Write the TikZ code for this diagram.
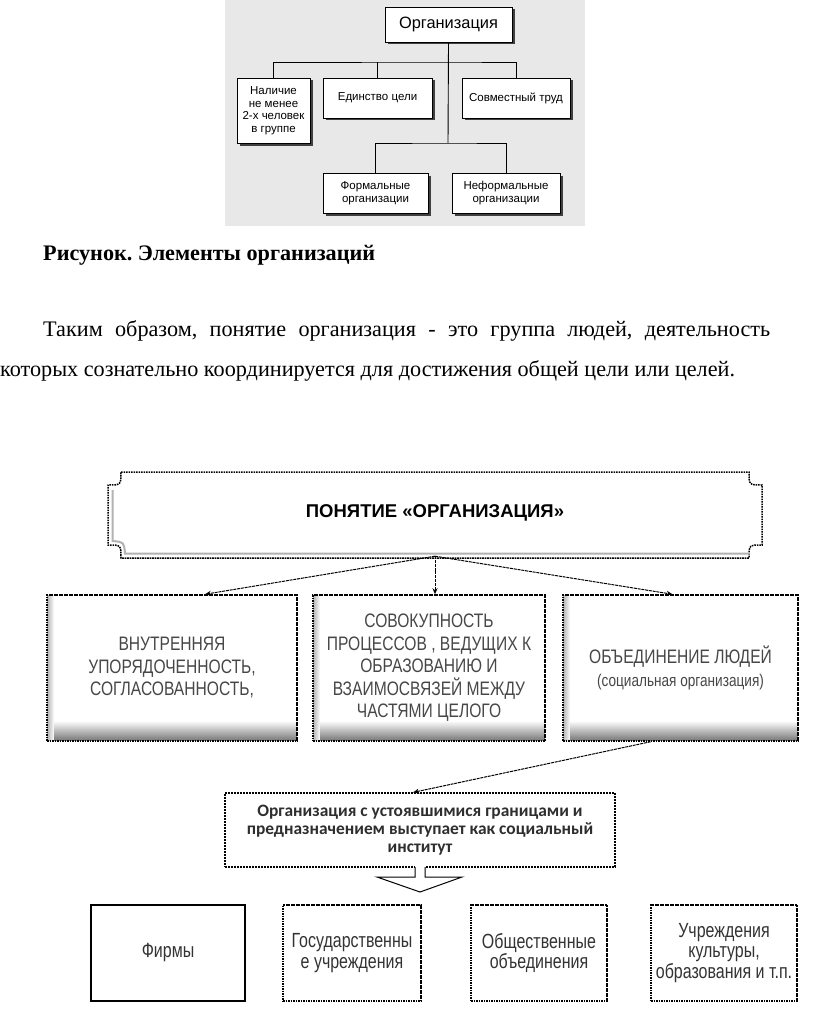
\documentclass[tikz,border=0pt]{standalone}
\usepackage{fontspec}
\setmainfont{Liberation Serif}
\newfontfamily\scanfont{Liberation Sans}
\newfontfamily\narrowfont[FakeStretch=0.8]{Liberation Sans}
\newfontfamily\narrowerfont[FakeStretch=0.78]{Liberation Sans}
\newfontfamily\califont{Carlito}
\usetikzlibrary{arrows.meta,shadows,calc}
\tikzset{
  scanbox/.style={draw, fill=white, line width=0.9pt, align=center, inner sep=1pt,
    font=\scanfont\fontsize{11.5}{12.5}\selectfont,
    drop shadow={shadow xshift=2.5pt, shadow yshift=-2.5pt, fill=black!75, opacity=1}},
  dotframe/.style={draw, line width=1.5pt, dash pattern=on 1.6pt off 0.9pt},
  conceptbox/.style={dotframe, fill=white, align=center, inner sep=0pt, text=black!72,
    font=\narrowfont\fontsize{19.5}{22.5}\selectfont, minimum height=146pt,
    path picture={
      \foreach \k in {0,...,19}{
        \pgfmathsetmacro\shadeval{52-\k*2.7}
        \fill[black!\shadeval] ([yshift=\k pt]path picture bounding box.south west)
          rectangle ([yshift={\k pt+1.05pt}]path picture bounding box.south east);}
      \foreach \k in {0,...,6}{
        \pgfmathsetmacro\shadeval{30-\k*4.2}
        \fill[black!\shadeval] ([xshift=\k pt]path picture bounding box.south west)
          rectangle ([xshift={\k pt+1.05pt}]path picture bounding box.north west);}}},
  kindbox/.style={dotframe, fill=white, align=center, inner sep=0pt, text=black!80,
    font=\narrowerfont\fontsize{20.5}{20.5}\selectfont, minimum height=96pt},
  dasharrow/.style={-{Stealth[length=6pt,width=5pt]}, line width=1pt, dash pattern=on 3pt off 0.8pt},
}
\begin{document}
\frenchspacing
\begin{tikzpicture}[x=1pt,y=-1pt]
  \useasboundingbox (0,0) rectangle (816,1030);
  % scanned scheme
  \fill[black!9] (225,0) rectangle (585,226);
  \node[scanbox, minimum width=127pt, minimum height=35pt, font=\scanfont\fontsize{16.4}{18}\selectfont] (org) at (448.5,24.5) {Организация};
  \node[scanbox, minimum width=73pt, minimum height=65pt] (nal) at (273.5,110.5) {Наличие\\не менее\\2-х человек\\в группе};
  \node[scanbox, minimum width=109pt, minimum height=40pt] (edin) at (377.5,98) {Единство цели};
  \node[scanbox, minimum width=108pt, minimum height=40pt] (sovm) at (516,98) {Совместный труд};
  \node[scanbox, minimum width=105pt, minimum height=40pt] (form) at (375.5,193) {Формальные\\организации};
  \node[scanbox, minimum width=108pt, minimum height=40pt] (neform) at (506,193) {Неформальные\\организации};
  \coordinate (h1) at (448,62); \coordinate (h2) at (448,143);
  \begin{scope}[line width=0.9pt]
    \draw (org.south) -- (h2);
    \draw (nal.north) |- (h1) -| (sovm.north);
    \draw (edin.north) -- (edin.north |- h1);
    \draw (form.north) |- (h2) -| (neform.north);
  \end{scope}
  % caption and text
  \node[anchor=west, inner sep=0pt, font=\bfseries\fontsize{22.2}{26}\selectfont] (caption) at (43,255) {Рисунок. Элементы организаций};
  \node[anchor=west, inner sep=0pt, font=\fontsize{22.2}{26}\selectfont] (par1) at (43,331)
    {\makebox[727pt][s]{Таким образом, понятие организация - это группа людей, деятельность}};
  \node[anchor=west, inner sep=0pt, font=\fontsize{22.2}{26}\selectfont] (par2) at (0,371)
    {которых сознательно координируется для достижения общей цели или целей.};
  % concept scheme
  \draw[dotframe, fill=white] (121,472) -- (749,472) .. controls (749,485) .. (762,485) -- (762,545)
    .. controls (749,545) .. (749,558) -- (121,558) .. controls (121,545) .. (108,545) -- (108,485)
    .. controls (121,485) .. (121,472) -- cycle;
  \draw[black!30, line width=2pt] (112.5,490) -- (112.5,541) .. controls (124,542) .. (125,553.5) -- (750,553.5);
  \node[minimum width=654pt, minimum height=86pt, font=\scanfont\bfseries\fontsize{18.5}{20}\selectfont] (poniatie) at (435,513) {ПОНЯТИЕ «ОРГАНИЗАЦИЯ»};
  \node[conceptbox, minimum width=250pt] (vnutr) at (172,668) {ВНУТРЕННЯЯ\\УПОРЯДОЧЕННОСТЬ,\\СОГЛАСОВАННОСТЬ,};
  \node[conceptbox, minimum width=232pt] (sovok) at (429,668) {СОВОКУПНОСТЬ\\ПРОЦЕССОВ , ВЕДУЩИХ К\\ОБРАЗОВАНИЮ И\\ВЗАИМОСВЯЗЕЙ МЕЖДУ\\ЧАСТЯМИ ЦЕЛОГО};
  \node[conceptbox, minimum width=235pt] (obed) at (680.5,668) {ОБЪЕДИНЕНИЕ ЛЮДЕЙ\\{\fontsize{17}{22.5}\selectfont(социальная организация)}};
  \draw[dasharrow] (poniatie.south) -- ([xshift=33pt]vnutr.north);
  \draw[dasharrow] (poniatie.south) -- (poniatie.south |- sovok.north);
  \draw[dasharrow] (poniatie.south) -- ([xshift=-8pt]obed.north);
  \node[draw, line width=1.2pt, dash pattern=on 2pt off 1pt, align=center, inner sep=0pt,
    minimum width=390pt, minimum height=74pt, text=black!82,
    font=\califont\bfseries\fontsize{17.4}{17.8}\selectfont] (inst) at (420,830)
    {Организация с устоявшимися границами и\\предназначением выступает как социальный\\институт};
  \draw[dasharrow] ([xshift=-30pt]obed.south) -- ([xshift=-7pt]inst.north);
  % hollow arrow
  \fill[white] (415,866) -- (415,877) -- (377,877) -- (420,892) -- (462,877) -- (425,877) -- (425,866) -- cycle;
  \draw[line width=1pt] (415,867) -- (415,877) -- (377,877) -- (420,892) -- (462,877) -- (425,877) -- (425,867);
  \node[kindbox, dash pattern=, line width=2pt, minimum width=154pt] (firms) at (168,953) {Фирмы};
  \node[kindbox, minimum width=138pt] (gos) at (352,953) {Государственны\\е учреждения};
  \node[kindbox, minimum width=136pt] (obsh) at (539,953) {Общественные\\объединения};
  \node[kindbox, minimum width=146pt] (uchr) at (724,953) {Учреждения\\культуры,\\образования и т.п.};
\end{tikzpicture}
\end{document}
